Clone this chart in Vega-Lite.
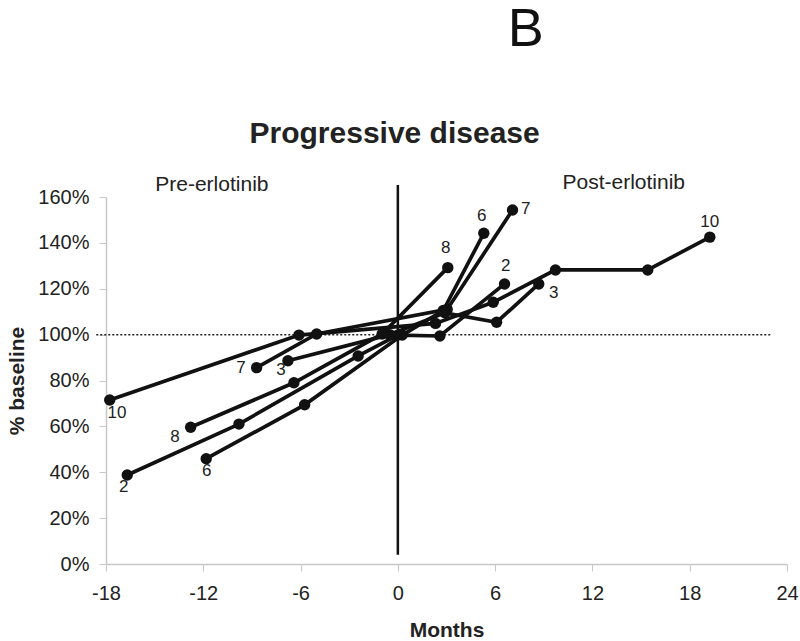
{
  "$schema": "https://vega.github.io/schema/vega-lite/v6.json",
  "width": 681,
  "height": 367,
  "autosize": {"type": "none"},
  "padding": {"left": 106, "top": 197, "right": 13, "bottom": 77},
  "background": "white",
  "config": {
    "view": {"stroke": null},
    "font": "Liberation Sans",
    "text": {"font": "Liberation Sans"}
  },
  "datasets": {
    "series": [
      {"patient": "2", "seq": 1, "month": -16.69, "pct": 38.8},
      {"patient": "2", "seq": 2, "month": -9.8, "pct": 61.0},
      {"patient": "2", "seq": 3, "month": -2.45, "pct": 90.7},
      {"patient": "2", "seq": 4, "month": 0.0, "pct": 99.8},
      {"patient": "2", "seq": 5, "month": 2.59, "pct": 99.4},
      {"patient": "2", "seq": 6, "month": 6.58, "pct": 122.1},
      {"patient": "3", "seq": 1, "month": -6.78, "pct": 88.6},
      {"patient": "3", "seq": 2, "month": -0.5, "pct": 100.0},
      {"patient": "3", "seq": 3, "month": 2.9, "pct": 109.5},
      {"patient": "3", "seq": 4, "month": 6.09, "pct": 105.4},
      {"patient": "3", "seq": 5, "month": 8.69, "pct": 122.1},
      {"patient": "6", "seq": 1, "month": -11.82, "pct": 45.9},
      {"patient": "6", "seq": 2, "month": -5.75, "pct": 69.4},
      {"patient": "6", "seq": 3, "month": 0.27, "pct": 99.8},
      {"patient": "6", "seq": 4, "month": 2.8, "pct": 110.5},
      {"patient": "6", "seq": 5, "month": 5.3, "pct": 144.2},
      {"patient": "7", "seq": 1, "month": -8.71, "pct": 85.6},
      {"patient": "7", "seq": 2, "month": -5.01, "pct": 100.3},
      {"patient": "7", "seq": 3, "month": 3.04, "pct": 111.0},
      {"patient": "7", "seq": 4, "month": 7.07, "pct": 154.3},
      {"patient": "8", "seq": 1, "month": -12.78, "pct": 59.6},
      {"patient": "8", "seq": 2, "month": -6.41, "pct": 79.0},
      {"patient": "8", "seq": 3, "month": -0.97, "pct": 100.3},
      {"patient": "8", "seq": 4, "month": 3.08, "pct": 129.2},
      {"patient": "10", "seq": 1, "month": -17.77, "pct": 71.5},
      {"patient": "10", "seq": 2, "month": -6.1, "pct": 99.8},
      {"patient": "10", "seq": 3, "month": 2.32, "pct": 104.9},
      {"patient": "10", "seq": 4, "month": 5.88, "pct": 114.1},
      {"patient": "10", "seq": 5, "month": 9.72, "pct": 128.2},
      {"patient": "10", "seq": 6, "month": 15.41, "pct": 128.2},
      {"patient": "10", "seq": 7, "month": 19.24, "pct": 142.5}
    ],
    "labels": [
      {"label": "10", "month": -17.32, "pct": 65.8},
      {"label": "2", "month": -16.9, "pct": 33.6},
      {"label": "8", "month": -13.75, "pct": 55.4},
      {"label": "6", "month": -11.78, "pct": 40.5},
      {"label": "7", "month": -9.68, "pct": 85.4},
      {"label": "3", "month": -7.21, "pct": 84.6},
      {"label": "8", "month": 2.96, "pct": 137.7},
      {"label": "6", "month": 5.18, "pct": 151.7},
      {"label": "7", "month": 7.89, "pct": 154.8},
      {"label": "2", "month": 6.66, "pct": 129.9},
      {"label": "3", "month": 9.62, "pct": 118.1},
      {"label": "10", "month": 19.24, "pct": 149.1}
    ],
    "headers": [
      {"text": "Pre-erlotinib", "month": -11.47, "pct": 165.2},
      {"text": "Post-erlotinib", "month": 13.93, "pct": 166.1}
    ]
  },
  "layer": [
    {
      "data": {"values": [{"x": -18.6, "x2": 23, "y": 100}]},
      "mark": {"type": "rule", "strokeDash": [2, 2], "strokeWidth": 1.5, "color": "#222"},
      "encoding": {
        "x": {"field": "x", "type": "quantitative", "scale": {"domain": [-18, 24]}},
        "x2": {"field": "x2"},
        "y": {"field": "y", "type": "quantitative"}
      }
    },
    {
      "data": {"values": [{"x": 0, "y": 4, "y2": 165.2}]},
      "mark": {"type": "rule", "strokeWidth": 2.5, "color": "#111"},
      "encoding": {
        "x": {"field": "x", "type": "quantitative"},
        "y": {"field": "y", "type": "quantitative"},
        "y2": {"field": "y2"}
      }
    },
    {
      "data": {"name": "series"},
      "mark": {"type": "line", "color": "#111", "strokeWidth": 3.7, "clip": false},
      "encoding": {
        "x": {
          "field": "month", "type": "quantitative",
          "scale": {"domain": [-18, 24], "nice": false, "zero": false},
          "axis": {
            "title": "Months",
            "values": [-18, -12, -6, 0, 6, 12, 18, 24],
            "labelExpr": "'' + datum.value",
            "grid": false,
            "domainColor": "#c8c8c8",
            "domainWidth": 1.5,
            "tickColor": "#c8c8c8",
            "tickSize": 7,
            "labelPadding": 12,
            "labelFontSize": 20,
            "labelColor": "#222",
            "labelFont": "Liberation Sans",
            "titleFont": "Liberation Sans",
            "titleFontSize": 21,
            "titleFontWeight": "bold",
            "titleColor": "#222",
            "titlePadding": 16,
            "labelFlush": false
          }
        },
        "y": {
          "field": "pct", "type": "quantitative",
          "scale": {"domain": [0, 160], "nice": false},
          "axis": {
            "title": "% baseline",
            "values": [0, 20, 40, 60, 80, 100, 120, 140, 160],
            "labelExpr": "datum.value + '%'",
            "grid": false,
            "domainColor": "#c8c8c8",
            "domainWidth": 1.5,
            "tickColor": "#c8c8c8",
            "tickSize": 7,
            "labelPadding": 10,
            "labelFontSize": 20,
            "labelColor": "#222",
            "labelFont": "Liberation Sans",
            "titleFont": "Liberation Sans",
            "titleFontSize": 21,
            "titleFontWeight": "bold",
            "titleColor": "#222",
            "titlePadding": 10,
            "labelFlush": false
          }
        },
        "detail": {"field": "patient"},
        "order": {"field": "seq", "type": "quantitative"}
      }
    },
    {
      "data": {"name": "series"},
      "mark": {"type": "point", "filled": true, "color": "#111", "size": 130, "opacity": 1},
      "encoding": {
        "x": {"field": "month", "type": "quantitative"},
        "y": {"field": "pct", "type": "quantitative"}
      }
    },
    {
      "data": {"name": "labels"},
      "mark": {"type": "text", "fontSize": 17, "color": "#222", "baseline": "middle", "align": "center"},
      "encoding": {
        "x": {"field": "month", "type": "quantitative"},
        "y": {"field": "pct", "type": "quantitative"},
        "text": {"field": "label"}
      }
    },
    {
      "data": {"name": "headers"},
      "mark": {"type": "text", "fontSize": 21, "color": "#222", "baseline": "middle", "align": "center"},
      "encoding": {
        "x": {"field": "month", "type": "quantitative"},
        "y": {"field": "pct", "type": "quantitative"},
        "text": {"field": "text"}
      }
    },
    {
      "data": {"values": [{"text": "Progressive disease", "month": -0.2, "pct": 187.4}]},
      "mark": {"type": "text", "fontSize": 30, "fontWeight": "bold", "color": "#222", "baseline": "middle", "align": "center"},
      "encoding": {
        "x": {"field": "month", "type": "quantitative"},
        "y": {"field": "pct", "type": "quantitative"},
        "text": {"field": "text"}
      }
    },
    {
      "data": {"values": [{"text": "B", "month": 7.89, "pct": 233.0}]},
      "mark": {"type": "text", "fontSize": 54, "color": "#111", "baseline": "middle", "align": "center"},
      "encoding": {
        "x": {"field": "month", "type": "quantitative"},
        "y": {"field": "pct", "type": "quantitative"},
        "text": {"field": "text"}
      }
    }
  ]
}
